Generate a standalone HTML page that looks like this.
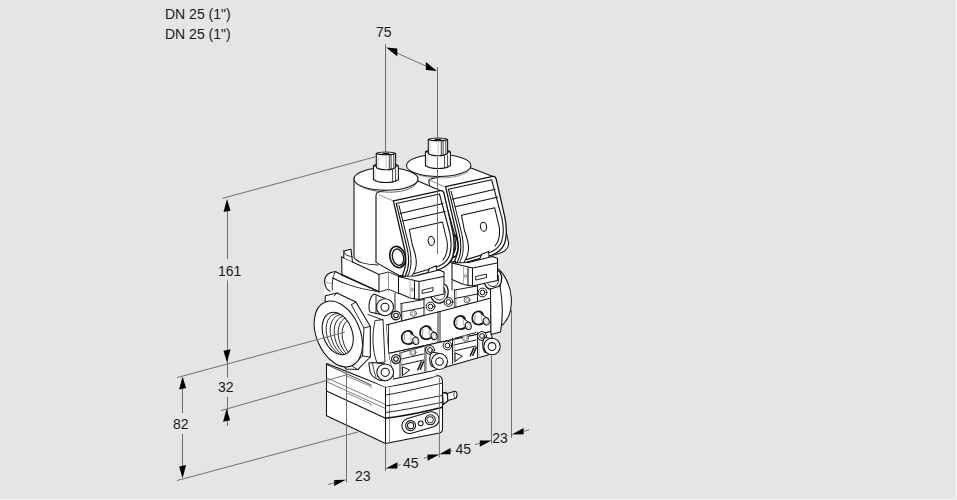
<!DOCTYPE html>
<html><head><meta charset="utf-8">
<style>
html,body{margin:0;padding:0;}
body{width:957px;height:500px;overflow:hidden;background:#e5e5e5;position:relative;}
svg{position:absolute;left:0;top:0;}
.t{font-family:"Liberation Sans",sans-serif;font-size:14px;fill:#1a1a1a;}
</style></head><body>
<svg width="957" height="500" viewBox="0 0 957 500">
<rect x="955" y="0" width="1" height="500" fill="#ebebeb"/><rect x="956" y="0" width="1" height="500" fill="#f2f2f2"/>
<rect x="0" y="499" width="957" height="1" fill="#f0f0f0"/>
<!-- ===== bottom box ===== -->
<g fill="#fff" stroke="#111" stroke-width="1.05" stroke-linejoin="round" stroke-linecap="round">
<!-- silhouette -->
<path d="M326.5,363.6 L385.5,387 C405,384 425,380 436,376 C440,375 443,378 442.5,382 L442.5,429 C442.5,431 441.5,432.5 439.4,433 L385.5,443.4 L326.5,415.8 Z"/>
<path d="M330,362 L385.5,387 L436,376 L432,368 L393.6,376 L372,378 L352,366 L340,358 Z" stroke="none"/>
<path d="M326.5,364.5 L371,385" fill="none" stroke-width="0.8"/>
<!-- left face lines -->
<path d="M326.5,377.8 L385.5,404.5" fill="none" stroke="#444" stroke-width="0.7"/>
<path d="M326.5,381.6 L385.5,408.5" fill="none" stroke="#444" stroke-width="0.7"/>
<path d="M326.5,391 L385.5,418.3" fill="none" stroke-width="1.2"/>
<path d="M346.6,376 L371,386.5 L371,388 M346.6,393 L371,404 L371,405.5" fill="none" stroke="#555" stroke-width="0.7"/>
<!-- front face lines -->
<path d="M385.5,387 L385.5,443.4" fill="none"/>
<path d="M389.5,388 L389.5,443" fill="none" stroke="#777" stroke-width="0.8"/>
<path d="M385.5,395 C405,392 428,386 442.5,383" fill="none" stroke-width="0.9"/>
<path d="M385.5,406 C405,403 428,398 442.5,395.5" fill="none" stroke-width="0.9"/>
<path d="M385.5,412.5 C405,410 428,405 442.5,402.3" fill="none" stroke-width="0.9"/>
<path d="M385.5,418.3 C405,416 428,411 442.5,407.3" fill="none" stroke-width="1.4"/>
<!-- port plate (stadium) -->
<path d="M407.5,418.5 L429.5,412 A7.6,7.6 0 0 1 433.5,426.7 L411.5,433.2 A7.6,7.6 0 0 1 407.5,418.5 Z"/>
<circle cx="410.6" cy="425.6" r="5"/><circle cx="410.6" cy="425.6" r="3.1"/>
<circle cx="420.7" cy="423.3" r="2.4"/>
<circle cx="430.3" cy="419.8" r="5"/><path d="M428.5,417 L432.2,416.8 L433.5,419.8 L432,422.7 L428.4,422.8 L427,419.8 Z" stroke-width="0.9"/>
<!-- nipple -->
<path d="M442.5,393 L446,392.5 L447.8,395 L447.8,401 L443,404.6 Z" stroke-width="1.3"/>
<path d="M447.5,393.5 L454.5,391.3 C457.5,390.5 458,397.5 455,398.5 L447.8,400.5 Z"/>
<path d="M454.8,391.5 C453.3,393 453.3,397 455,398.3" fill="none" stroke-width="0.7"/>
</g>
<!-- ===== BACK: right flange ===== -->
<g fill="#fff" stroke="#111" stroke-width="1.05" stroke-linejoin="round" stroke-linecap="round">
<path d="M494,266 C503,271 510,283 511.2,297 C512.2,309 509,318 503.5,324 L492,332 L490,270 Z"/>
<path d="M496,270 C499,276 500,281 500.5,286" fill="none" stroke-width="0.8"/>

<!-- ===== valve body white background ===== -->
<path d="M342,256 L356,254 L450,250 L496,258 L497,280 L492,300 L492,336 L470,350 L440,372 L395,382 L370,378 L352,370 L343,292 Z" stroke="none"/>

<!-- body top block (left) -->
<path d="M341.6,256.8 L379,274.4 L379,291.8 L342,275 Z"/>
<path d="M343.8,257.8 L343.8,251 L351,249.3 L352.5,261.9" />

<path d="M343.8,251 L346,255 L352.5,257" fill="none" stroke-width="0.8"/>

<!-- ===== right coil ===== -->
<path d="M406.5,165 L406.5,240 L470.9,240 L470.9,166.5 Z" stroke="none"/>
<!-- right housing body -->
<path d="M428.8,181 C428.8,179 430,179 431,179 L471,168 L493.6,176.8 C496,178 496,181 496,182 L508.6,243 C509,248 506,252 496,254.5 L470,258 L452,262 L440,250 Z"/>
<path d="M430,180.5 L445.6,187" fill="none" stroke="#777" stroke-width="0.8"/>
<path d="M445.6,186.6L492.7,176.4C494.7,176.0,495.7,177.3,496.1,178.8L504.8,216.8C506.8,225.8,506.8,237.8,504.4,243.8C502.0,249.8,497.2,253.3,491.2,255.3L464.2,262.8C458.2,264.0,454.7,263.3,455.0,260.3C456.7,255.8,458.0,251.8,458.0,246.8C458.0,240.8,457.0,234.8,455.8,230.8Z" stroke-width="1.25"/>
<path d="M448.5,189.3L491.7,179.8L501.8,217.8C503.6,225.8,503.6,235.8,501.5,241.8C499.2,247.3,495.2,250.3,490.2,252.3L466.2,259.6" fill="none" stroke-width="1.1"/>
<path d="M448.5,189.3L458.6,230.8C460.0,235.8,460.9,241.8,460.8,247.8C460.6,253.8,459.2,258.3,457.5,261.6" fill="none" stroke-width="1.1"/>
<path d="M451.2,191.3L461.0,230.8C462.6,236.8,463.4,242.8,463.2,248.8C463.0,254.3,461.7,258.3,459.8,261.8" fill="none" stroke-width="1"/>
<path d="M452.2,199.2L495.2,189.2M455.2,206.8L497.4,197.2" fill="none"/>
<path d="M461.5,215.3L494.7,207.8L499.2,226.8C500.2,233.8,499.2,240.8,495.2,245.8M461.5,215.3L464.5,230.8C466.7,236.8,468.5,242.3,468.5,248.3C468.5,253.8,466.7,258.3,464.0,262.3" fill="none"/>
<ellipse cx="483.5" cy="226.8" rx="3.1" ry="4.5" transform="rotate(-8 483.5 226.8)"/>
<path d="M478.7,261.3L481.7,254.3L488.7,251.5L489.2,259.6Z"/>
<!-- right gland (between panels) -->
<path d="M452,232 C458,236 460,248 456,256 L452,258 Z" fill="#fff" stroke-width="1.6"/>
<path d="M453,236 C456,240 457,248 454,253" fill="none" stroke-width="1"/>
<ellipse cx="438.7" cy="165.5" rx="32.2" ry="11"/>
<path d="M408,169 C414,176 430,178.3 445,177.8 C460,177 469,173 470.8,168" fill="none" stroke="#666" stroke-width="0.7"/>
<!-- right nut -->
<path d="M425.4,152.0 L425.4,165.5 C430,169.5 446,169.5 450.4,165.5 L450.4,152.0 Z"/>
<path d="M425.4,152.0 C429,148.5 447,148.5 450.4,152.0" fill="none"/>
<path d="M428.3,139.5 L428.3,153.5 C432,156.5 444,156.5 447.6,153.5 L447.6,139.5 Z"/>
<path d="M428.3,139.5 C431,137.5 445,137.5 447.6,139.5 C445,141.1 431,141.1 428.3,139.5 Z"/>
<path d="M435.5,139.8 L440.4,139.8" fill="none" stroke-width="1.8"/>
<path d="M444.6,156.0 L444.6,168.3 M447.6,155.5 L447.6,167.3 M441.3,141.0 L441.3,156.0 M443.1,140.8 L443.1,155.5 M445.8,140.5 L445.8,154.5" fill="none" stroke-width="0.8"/>
<path d="M438.2,141.0 L438.2,156.0" fill="none" stroke="#aaa" stroke-width="0.7"/>
<path d="M430,141.5 L430,153.5 M427,156.5 L427,165.5" fill="none" stroke="#999" stroke-width="0.6" stroke-dasharray="1 1"/>

<!-- ===== left coil ===== -->
<path d="M354,179 L354,257 C358,262 368,266 380,266 L418,266 L418,179 Z" stroke="none"/>
<path d="M354,179 L354,257 C356,262 366,265 378,265" fill="none"/>
<!-- left housing body -->
<path d="M376,196 C376,193 377,192 379,192 L418,181 L440,190.6 L443,194 L454,232 C456,240 455,252 451,262 L438,270 L423,275.5 L399,275.5 L376,262.4 Z"/>
<path d="M379,194.8 L393.4,201" fill="none" stroke="#777" stroke-width="0.8"/>
<path d="M376,197 L376,262" fill="none" stroke="#666" stroke-width="0.7" stroke-dasharray="1.2 0.8"/>
<path d="M393.4,200.8L440.5,190.6C442.5,190.2,443.5,191.5,443.9,193.0L452.6,231.0C454.6,240.0,454.6,252.0,452.2,258.0C449.8,264.0,445.0,267.5,439.0,269.5L412.0,277.0C406.0,278.2,402.5,277.5,402.8,274.5C404.5,270.0,405.8,266.0,405.8,261.0C405.8,255.0,404.8,249.0,403.6,245.0Z" stroke-width="1.25"/>
<path d="M396.3,203.5L439.5,194.0L449.6,232.0C451.4,240.0,451.4,250.0,449.3,256.0C447.0,261.5,443.0,264.5,438.0,266.5L414.0,273.8" fill="none" stroke-width="1.1"/>
<path d="M396.3,203.5L406.4,245.0C407.8,250.0,408.7,256.0,408.6,262.0C408.4,268.0,407.0,272.5,405.3,275.8" fill="none" stroke-width="1.1"/>
<path d="M399.0,205.5L408.8,245.0C410.4,251.0,411.2,257.0,411.0,263.0C410.8,268.5,409.5,272.5,407.6,276.0" fill="none" stroke-width="1"/>
<path d="M400.0,213.4L443.0,203.4M403.0,221.0L445.2,211.4" fill="none"/>
<path d="M409.3,229.5L442.5,222.0L447.0,241.0C448.0,248.0,447.0,255.0,443.0,260.0M409.3,229.5L412.3,245.0C414.5,251.0,416.3,256.5,416.3,262.5C416.3,268.0,414.5,272.5,411.8,276.5" fill="none"/>
<ellipse cx="431.3" cy="241.0" rx="3.1" ry="4.5" transform="rotate(-8 431.3 241.0)"/>
<path d="M426.5,275.5L429.5,268.5L436.5,265.7L437.0,273.8Z"/>
<!-- gland -->
<ellipse cx="397.6" cy="257" rx="7.6" ry="10.8" transform="rotate(-14 397.6 257)" stroke-width="1.6"/>
<ellipse cx="398" cy="257.2" rx="5.5" ry="8.3" transform="rotate(-14 398 257.2)" stroke-width="1.3"/>
<ellipse cx="386" cy="179" rx="32" ry="11.2"/>
<path d="M356,183 C364,190 378,192.2 392,192.2 C406,191.5 415,187.5 418,181" fill="none" stroke="#444" stroke-width="0.8"/>
<!-- left nut -->
<path d="M373.4,166.0 L373.4,179.5 C378,183.5 394,183.5 398.4,179.5 L398.4,166.0 Z"/>
<path d="M373.4,166.0 C377,162.5 395,162.5 398.4,166.0" fill="none"/>
<path d="M376.3,153.5 L376.3,167.5 C380,170.5 392,170.5 395.6,167.5 L395.6,153.5 Z"/>
<path d="M376.3,153.5 C379,151.5 393,151.5 395.6,153.5 C393,155.1 379,155.1 376.3,153.5 Z"/>
<path d="M383.5,153.8 L388.4,153.8" fill="none" stroke-width="1.8"/>
<path d="M392.6,170.0 L392.6,182.3 M395.6,169.5 L395.6,181.3 M389.3,155.0 L389.3,170.0 M391.1,154.8 L391.1,169.5 M393.8,154.5 L393.8,168.5" fill="none" stroke-width="0.8"/>
<path d="M386.2,155.0 L386.2,170.0" fill="none" stroke="#aaa" stroke-width="0.7"/>
<path d="M378,155.5 L378,167.5 M375,170.5 L375,179.5" fill="none" stroke="#999" stroke-width="0.6" stroke-dasharray="1 1"/>
</g>
<g fill="#fff" stroke="#111" stroke-width="1.05" stroke-linejoin="round" stroke-linecap="round">
<!-- body section behind modules (side faces) -->
<path d="M380,266 L398.5,276 L398.5,294 L388,300 L380,291.5 Z" stroke="none"/>
<path d="M379,274.4 L388.5,272 L398.8,276.2 M379.4,292 L388.5,289.2 L398.8,293.7" fill="none" stroke-width="0.9"/>
<path d="M388.5,272 L388.5,291" fill="none" stroke="#888" stroke-width="0.9"/>
<path d="M398.5,276.5L415.0,276.0L439.0,270.0L444.0,272.0L444.0,294.0L419.0,299.5L410.0,298.0L398.5,293.0Z"/>
<path d="M398.5,276.5L419.0,281.5L443.5,276.5M419.0,281.5L419.0,299.5M414.5,280.5L414.5,298.8" fill="none"/>
<path d="M410.0,279.5L410.0,298.0" fill="none" stroke="#999" stroke-width="0.8"/>
<ellipse cx="412.0" cy="289.5" rx="1" ry="1.8" fill="none" stroke="#777" stroke-width="0.8"/>
<path d="M422.5,290.0L433.0,287.5L433.0,291.0L422.5,293.5Z" fill="none" stroke-width="0.9"/>
<path d="M431.0,297.0C433.0,302.0,437.0,303.5,440.5,303.0C445.5,302.0,448.3,297.0,448.2,291.5C448.0,288.0,446.5,285.5,445.0,284.5L444.0,287.5C444.6,288.5,445.1,290.0,445.2,292.0C445.3,296.0,443.5,299.5,440.5,300.0C438.5,300.3,436.0,299.5,434.5,297.5Z" stroke="none"/>
<path d="M431.0,297.0C433.0,302.0,437.0,303.5,440.5,303.0C445.5,302.0,448.3,297.0,448.2,291.5C448.0,288.0,446.5,285.5,445.0,284.5" fill="none" stroke-width="1.3"/>
<path d="M434.5,297.5C436.0,299.5,438.5,300.3,440.5,300.0C443.5,299.5,445.3,296.0,445.2,292.0C445.1,290.0,444.6,288.5,444.0,287.5" fill="none" stroke-width="0.9"/>
<path d="M401.0,303.5L424.0,299.5M401.5,312.0L424.0,307.5M401.5,321.0L424.0,315.5M401.0,303.5L401.5,321.0M424.0,299.5L424.0,316.0" fill="none" stroke-width="0.95"/>
<path d="M402.7,304.0L402.7,321.0" fill="none" stroke="#999" stroke-width="0.8"/>
<circle cx="413.5" cy="313.5" r="3" stroke="#555" stroke-width="0.9"/>
<circle cx="413.5" cy="313.5" r="1.6" stroke="#888" stroke-width="0.6"/>
<path d="M395,293.5 L395,310 M452,279 L452,290" fill="none" stroke-width="0.9"/>
<path d="M452.0,263.0L468.5,262.5L492.5,256.5L497.5,258.5L497.5,280.5L472.5,286.0L463.5,284.5L452.0,279.5Z"/>
<path d="M452.0,263.0L472.5,268.0L497.0,263.0M472.5,268.0L472.5,286.0M468.0,267.0L468.0,285.3" fill="none"/>
<path d="M463.5,266.0L463.5,284.5" fill="none" stroke="#999" stroke-width="0.8"/>
<ellipse cx="465.5" cy="276.0" rx="1" ry="1.8" fill="none" stroke="#777" stroke-width="0.8"/>
<path d="M476.0,276.5L486.5,274.0L486.5,277.5L476.0,280.0Z" fill="none" stroke-width="0.9"/>
<path d="M484.5,283.5C486.5,288.5,490.5,290.0,494.0,289.5C499.0,288.5,501.8,283.5,501.7,278.0C501.5,274.5,500.0,272.0,498.5,271.0L497.5,274.0C498.1,275.0,498.6,276.5,498.7,278.5C498.8,282.5,497.0,286.0,494.0,286.5C492.0,286.8,489.5,286.0,488.0,284.0Z" stroke="none"/>
<path d="M484.5,283.5C486.5,288.5,490.5,290.0,494.0,289.5C499.0,288.5,501.8,283.5,501.7,278.0C501.5,274.5,500.0,272.0,498.5,271.0" fill="none" stroke-width="1.3"/>
<path d="M488.0,284.0C489.5,286.0,492.0,286.8,494.0,286.5C497.0,286.0,498.8,282.5,498.7,278.5C498.6,276.5,498.1,275.0,497.5,274.0" fill="none" stroke-width="0.9"/>
<path d="M454.5,290.0L477.5,286.0M455.0,298.5L477.5,294.0M455.0,307.5L477.5,302.0M454.5,290.0L455.0,307.5M477.5,286.0L477.5,302.5" fill="none" stroke-width="0.95"/>
<path d="M456.2,290.5L456.2,307.5" fill="none" stroke="#999" stroke-width="0.8"/>
<circle cx="467.0" cy="300.0" r="3" stroke="#555" stroke-width="0.9"/>
<circle cx="467.0" cy="300.0" r="1.6" stroke="#888" stroke-width="0.6"/>

<!-- module middle plate -->
<path d="M386,325 L438,312 L491,298 L491,331.5 L440,342.2 L388.4,353.6 Z"/>
<path d="M388.5,325 L388.5,353 M438,312 L438,342.5 M440,311.5 L440,342" fill="none" stroke-width="0.9"/>
<!-- module lower faces -->
<path d="M388.4,353.6 L440,342.2 L491,331.5 L492,338 L488,355 L432,371 L393.6,379 L388,370 Z"/>
<path d="M388.4,353.6 L393.6,379" fill="none"/>
<path d="M400.0,352.5L400.0,377.5M425.0,346.5L425.0,371.5M401.5,352.5L423.5,346.5M401.5,359.0L423.5,354.0M401.5,365.0L423.5,360.0" fill="none" stroke-width="0.95"/>
<path d="M426.5,346.5L426.5,371.2M401.8,353.0L401.8,377.0" fill="none" stroke="#999" stroke-width="0.8"/>
<circle cx="413.0" cy="352.3" r="3" stroke="#555" stroke-width="0.9"/>
<circle cx="413.0" cy="352.3" r="1.6" stroke="#888" stroke-width="0.6"/>
<path d="M402.5,367.2L402.5,375.5L409.5,370.3Z" fill="none" stroke-width="1"/>
<path d="M417.8,369.8L421.2,362.0M420.3,369.3L423.7,361.5" fill="none" stroke-width="1.5"/>
<path d="M452.5,338.5L452.5,363.5M477.5,332.5L477.5,357.5M454.0,338.5L476.0,332.5M454.0,345.0L476.0,340.0M454.0,351.0L476.0,346.0" fill="none" stroke-width="0.95"/>
<path d="M479.0,332.5L479.0,357.2M454.3,339.0L454.3,363.0" fill="none" stroke="#999" stroke-width="0.8"/>
<circle cx="465.5" cy="338.3" r="3" stroke="#555" stroke-width="0.9"/>
<circle cx="465.5" cy="338.3" r="1.6" stroke="#888" stroke-width="0.6"/>
<path d="M455.0,353.2L455.0,361.5L462.0,356.3Z" fill="none" stroke-width="1"/>
<path d="M470.3,355.8L473.7,348.0M472.8,355.3L476.2,347.5" fill="none" stroke-width="1.5"/>
<!-- nipples -->
<path d="M401.8,338.8C401.5,335.0,403.0,332.0,406.8,331.0C409.5,330.5,411.8,332.0,412.5,334.0L413.0,341.5C412.0,343.5,409.5,344.3,407.3,344.0C404.5,343.5,402.3,341.5,401.8,338.8Z" stroke-width="1.7"/><path d="M404.7,334.5L404.2,340.2" fill="none" stroke="#777" stroke-width="0.8"/><path d="M410.4,333.2L416.1,337.1L415.6,344.4L412.5,342.8Z" stroke="none"/><path d="M410.4,333.2L416.1,337.1M412.5,342.8L415.6,344.4" fill="none" stroke-width="1"/><path d="M411.3,334.5C410.3,337.0,410.8,340.5,412.6,342.5" fill="none" stroke="#888" stroke-width="0.7"/><ellipse cx="415.8" cy="340.8" rx="2.9" ry="3.7" transform="rotate(-15 415.8 340.8)" stroke-width="1"/><ellipse cx="416.2" cy="340.9" rx="1.6" ry="2.4" fill="none" stroke="#999" stroke-width="0.6"/>
<path d="M420.1,334.0C419.8,330.2,421.3,327.2,425.1,326.2C427.8,325.7,430.1,327.2,430.8,329.2L431.3,336.7C430.3,338.7,427.8,339.5,425.6,339.2C422.8,338.7,420.6,336.7,420.1,334.0Z" stroke-width="1.7"/><path d="M423.0,329.7L422.5,335.4" fill="none" stroke="#777" stroke-width="0.8"/><path d="M428.7,328.4L434.4,332.3L433.9,339.6L430.8,338.0Z" stroke="none"/><path d="M428.7,328.4L434.4,332.3M430.8,338.0L433.9,339.6" fill="none" stroke-width="1"/><path d="M429.6,329.7C428.6,332.2,429.1,335.7,430.9,337.7" fill="none" stroke="#888" stroke-width="0.7"/><ellipse cx="434.1" cy="336.0" rx="2.9" ry="3.7" transform="rotate(-15 434.1 336.0)" stroke-width="1"/><ellipse cx="434.5" cy="336.1" rx="1.6" ry="2.4" fill="none" stroke="#999" stroke-width="0.6"/>
<path d="M454.3,323.8C454.0,320.0,455.5,317.0,459.3,316.0C462.0,315.5,464.3,317.0,465.0,319.0L465.5,326.5C464.5,328.5,462.0,329.3,459.8,329.0C457.0,328.5,454.8,326.5,454.3,323.8Z" stroke-width="1.7"/><path d="M457.2,319.5L456.7,325.2" fill="none" stroke="#777" stroke-width="0.8"/><path d="M462.9,318.2L468.6,322.1L468.1,329.4L465.0,327.8Z" stroke="none"/><path d="M462.9,318.2L468.6,322.1M465.0,327.8L468.1,329.4" fill="none" stroke-width="1"/><path d="M463.8,319.5C462.8,322.0,463.3,325.5,465.1,327.5" fill="none" stroke="#888" stroke-width="0.7"/><ellipse cx="468.3" cy="325.8" rx="2.9" ry="3.7" transform="rotate(-15 468.3 325.8)" stroke-width="1"/><ellipse cx="468.7" cy="325.9" rx="1.6" ry="2.4" fill="none" stroke="#999" stroke-width="0.6"/>
<path d="M472.3,319.3C472.0,315.5,473.5,312.5,477.3,311.5C480.0,311.0,482.3,312.5,483.0,314.5L483.5,322.0C482.5,324.0,480.0,324.8,477.8,324.5C475.0,324.0,472.8,322.0,472.3,319.3Z" stroke-width="1.7"/><path d="M475.2,315.0L474.7,320.7" fill="none" stroke="#777" stroke-width="0.8"/><path d="M480.9,313.7L486.6,317.6L486.1,324.9L483.0,323.3Z" stroke="none"/><path d="M480.9,313.7L486.6,317.6M483.0,323.3L486.1,324.9" fill="none" stroke-width="1"/><path d="M481.8,315.0C480.8,317.5,481.3,321.0,483.1,323.0" fill="none" stroke="#888" stroke-width="0.7"/><ellipse cx="486.3" cy="321.3" rx="2.9" ry="3.7" transform="rotate(-15 486.3 321.3)" stroke-width="1"/><ellipse cx="486.7" cy="321.4" rx="1.6" ry="2.4" fill="none" stroke="#999" stroke-width="0.6"/>
<!-- screws -->
<circle cx="395.5" cy="315.5" r="4.4" stroke-width="1"/><circle cx="395.5" cy="315.5" r="2.4" stroke-width="1"/>
<circle cx="430.5" cy="306.5" r="4.4" stroke-width="1"/><circle cx="430.5" cy="306.5" r="2.4" stroke-width="1"/>
<circle cx="448.5" cy="302" r="4.4" stroke-width="1"/><circle cx="448.5" cy="302" r="2.4" stroke-width="1"/>
<circle cx="482.5" cy="292.5" r="4.4" stroke-width="1"/><circle cx="482.5" cy="292.5" r="2.4" stroke-width="1"/>
<circle cx="396" cy="359.5" r="4.4" stroke-width="1"/><circle cx="396" cy="359.5" r="2.4" stroke-width="1"/>
<circle cx="430" cy="350" r="4.4" stroke-width="1"/><circle cx="430" cy="350" r="2.4" stroke-width="1"/>
<circle cx="447.5" cy="345.5" r="4.4" stroke-width="1"/><circle cx="447.5" cy="345.5" r="2.4" stroke-width="1"/>
<circle cx="482" cy="336" r="4.4" stroke-width="1"/><circle cx="482" cy="336" r="2.4" stroke-width="1"/>

<!-- right flange ledge -->
<path d="M490.5,289 L500,286 C502.5,300 503,318 500.5,332 L491,334.5 Z"/>
<!-- bosses -->
<path d="M432,352 C429,355 429,362 431.5,366 L439.5,369.5 L439.5,353.5 Z" stroke-width="1.1"/>
<circle cx="439.5" cy="361.5" r="8"/><circle cx="439.5" cy="361.5" r="3.8"/>
<path d="M485,337.5 C482,340 482,348 484.5,352 L492,354.5 L492,338.5 Z" stroke-width="1.1"/>
<circle cx="492" cy="346.5" r="8.2"/><circle cx="492" cy="346.5" r="3.9"/>
</g>
<!-- ===== left flange ===== -->
<g fill="#fff" stroke="#111" stroke-width="1.05" stroke-linejoin="round" stroke-linecap="round">
<!-- body left band -->
<path d="M341.6,274.5 L379.4,293 L388,300 L386,324.5 L388.4,353.6 L393.6,379 L372,381 L360,370 L345,296 Z" stroke="none"/>
<!-- C band -->
<path d="M375,321 C372,333 372,350 377,363 L385,362 L383,320 Z" stroke-width="0.9"/>
<!-- top arm -->
<path d="M333,271 L341.6,274.8 L378.8,291.6 L362,302 L338,294 L324,296 L324,280 Z" stroke="none"/>
<path d="M335.6,271.8 C329,271.2 324.3,276 324.6,281.8 C324.9,286.5 327,290 330,291.2" fill="none" stroke-width="1.1"/>
<path d="M335.6,271.8 C333,274.5 331.8,282 332.4,290" fill="none" stroke-width="0.9"/>
<path d="M335.6,271.8 L341.6,274.8" fill="none"/>
<path d="M341.6,274.8 L378.8,291.6" fill="none" stroke-width="1.5"/>
<path d="M332.8,278 C341,282 352,287.5 377.6,291.6" fill="none"/>
<path d="M325,282 L331.5,283.5" fill="none" stroke="#777" stroke-width="0.7"/>
<!-- hex nut -->
<path d="M325.3,295.8 L337,293 L355.9,302 L370.3,326.4 L370.3,357 L357.7,369.6 L346,369 L325,340 Z"/>
<path d="M351.4,304.8 L364,328 L362.5,356 L352,366 M355.9,302 L351.4,304.8 M370.3,326.4 L364,328 M370.3,357 L362.5,356 M357.7,369.6 L352,366 M337,293 L334,296" fill="none" stroke-width="0.9"/>
<!-- port ring -->
<defs><clipPath id="hole"><ellipse cx="337.7" cy="333.5" rx="14.5" ry="22" transform="rotate(-20 337.7 333.5)"/></clipPath></defs>
<ellipse cx="338.3" cy="334" rx="21.8" ry="34.5" transform="rotate(-23 338.3 334)"/>
<ellipse cx="337.7" cy="333.5" rx="14.5" ry="22" transform="rotate(-20 337.7 333.5)"/>
<g fill="none" stroke-width="0.8" clip-path="url(#hole)">
<ellipse cx="341.7" cy="334.7" rx="14.5" ry="22" transform="rotate(-20 341.7 334.7)"/><ellipse cx="345.7" cy="335.9" rx="14.5" ry="22" transform="rotate(-20 345.7 335.9)"/><ellipse cx="349.7" cy="337.1" rx="14.5" ry="22" transform="rotate(-20 349.7 337.1)"/><ellipse cx="353.7" cy="338.3" rx="14.5" ry="22" transform="rotate(-20 353.7 338.3)"/><ellipse cx="357.7" cy="339.5" rx="14.5" ry="22" transform="rotate(-20 357.7 339.5)"/>
</g>
<!-- upper boss -->
<path d="M374,294 C369,297 368,308 370,312 L385,315.6 L385,298.4 Z"/>
<path d="M376,296 L376,314 M368,314.5 L383,320" fill="none" stroke-width="0.9"/>
<circle cx="385" cy="307.2" r="8.5"/><circle cx="385" cy="307.2" r="4"/>
<!-- lower boss -->
<path d="M368.8,363 L373,362.5 L385,363.9 L385,380.7 L379.6,380.2 C375,378.5 371.5,376 370.2,372.4 Z"/>
<path d="M372.5,363.5 C373.5,368 374,372 376,377" fill="none" stroke-width="0.8"/>
<circle cx="385.2" cy="372.3" r="8.4"/><circle cx="385.2" cy="372.3" r="4.1"/>
<circle cx="396" cy="315.5" r="4.3"/><circle cx="396" cy="315.5" r="2.3"/>
<circle cx="396" cy="359" r="4.3"/><circle cx="396" cy="359" r="2.3"/>
</g>
<!-- ===== dimension lines ===== -->
<g stroke="#707070" stroke-width="1" fill="none">
<path d="M385.5,44 L385.5,152.5"/>
<path d="M437.5,67 L437.5,138.5 M437.5,157 L437.5,254.4"/>
<path d="M392,50.8 L431,68.4"/>
<path d="M222.4,198.4 L376,156.6"/>
<path d="M227.5,209 L227.5,259 M227.5,280.4 L227.5,377.6"/>
<path d="M227.5,396.8 L227.5,426"/>
<path d="M177,377.6 L316,340 M345,332 L316,340"/>
<path d="M221,410.6 L347,374.7"/>
<path d="M182.5,386 L182.5,413 M182.5,434 L182.5,468"/>
<path d="M177,480.5 L358,432"/>
<path d="M346.5,366 L346.5,482.5"/>
<path d="M385.5,443 L385.5,471"/>
<path d="M439.4,378 L439.4,457.5"/>
<path d="M491.5,355.8 L491.5,443.6"/>
<path d="M511.5,310 L511.5,438"/>
<path d="M328,484.5 L336,482.3 M398,465.3 L400.5,464.6 M424,458.2 L429,456.8 M450,451 L452,450.5 M475,444.6 L481,443 M524,431.3 L529,429.8"/>
</g>
<g fill="#000" stroke="none">
<path d="M386.2,47.5 L397.3,56.6 L397.3,48.6 Z"/>
<path d="M437.0,71.0 L425.9,69.9 L425.9,61.9 Z"/>
<path d="M227.0,199.0 L230.5,210.7 L223.5,212.1 Z"/>
<path d="M227.0,362.4 L230.5,349.3 L223.5,350.7 Z"/>
<path d="M226.6,408.8 L230.1,420.3 L223.1,421.7 Z"/>
<path d="M182.6,376.4 L186.1,388.1 L179.1,389.5 Z"/>
<path d="M182.6,478.2 L186.1,465.1 L179.1,466.5 Z"/>
<path d="M346.0,479.8 L334.2,486.1 L334.2,479.9 Z"/>
<path d="M385.6,468.6 L397.4,468.5 L397.4,462.3 Z"/>
<path d="M439.4,454.4 L427.6,460.7 L427.6,454.5 Z"/>
<path d="M439.4,454.2 L450.5,454.3 L450.5,448.1 Z"/>
<path d="M491.6,440.4 L479.8,446.7 L479.8,440.5 Z"/>
<path d="M511.8,434.4 L523.6,434.3 L523.6,428.1 Z"/>
</g>

<g class="t">
<text x="165" y="19">DN 25 (1")</text>
<text x="165" y="39">DN 25 (1")</text>
<text x="376" y="37">75</text>
<text x="218" y="276">161</text>
<text x="218" y="392">32</text>
<text x="173" y="429">82</text>
<text x="355" y="481">23</text>
<text x="403" y="468">45</text>
<text x="455.4" y="454">45</text>
<text x="492.3" y="442.5">23</text>
</g>
</svg>
</body></html>
